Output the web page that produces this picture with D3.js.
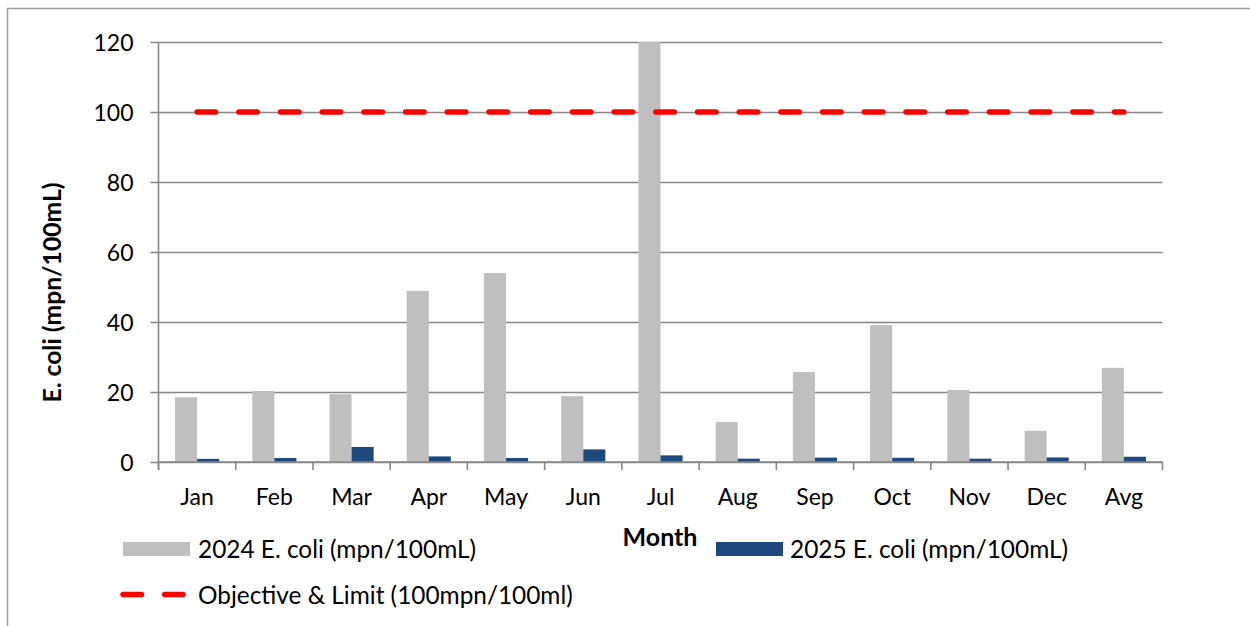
<!DOCTYPE html>
<html>
<head>
<meta charset="utf-8">
<script src="https://cdn.jsdelivr.net/npm/d3@7"></script>
<style>
  html, body { margin: 0; padding: 0; background: #fff; overflow: hidden; }
  svg { display: block; font-family: Lato, "Noto Sans", sans-serif; }
</style>
</head>
<body>
<svg id="chart" width="1250" height="626"></svg>
<script>
const categories = ["Jan","Feb","Mar","Apr","May","Jun","Jul","Aug","Sep","Oct","Nov","Dec","Avg"];
const ecoli2024 = [18.5, 20.3, 19.4, 48.9, 54, 18.8, 120, 11.4, 25.7, 39.1, 20.6, 8.9, 26.9];
const ecoli2025 = [0.9, 1.15, 4.3, 1.6, 1.15, 3.6, 1.9, 0.95, 1.25, 1.2, 0.95, 1.3, 1.5];
const objective = [100,100,100,100,100,100,100,100,100,100,100,100,100];
const yTicks = [0, 20, 40, 60, 80, 100, 120];
const seriesNames = ["2024 E. coli (mpn/100mL)", "2025 E. coli (mpn/100mL)", "Objective & Limit (100mpn/100ml)"];
const colors = { s2024: "#bfbfbf", s2025: "#1f497d", obj: "#ff0000", grid: "#878787" };

(function () {
const svg = d3.select("#chart");

// outer frame (extends past the right and bottom edges)
svg.append("rect").attr("x", 7.5).attr("y", 8.5).attr("width", 1300).attr("height", 700)
  .attr("fill", "none").attr("stroke", "#a0a0a0").attr("stroke-width", 1.5);

// clipped title descenders at the very top
svg.append("text").attr("x", 372).attr("y", -4).attr("font-size", 23).attr("fill", "#000").text("p");
svg.append("text").attr("x", 1021).attr("y", -4).attr("font-size", 23).attr("fill", "#000").text("y");

const pL = 158.5, pR = 1162.5, pT = 42, pB = 462;
const x = d3.scaleBand().domain(categories).range([pL, pR]).padding(0);
const y = d3.scaleLinear().domain([0, 120]).range([pB, pT]);
const bw = x.bandwidth();
const gap = bw * 1.5 / 3.5;
const xs = d3.scaleBand().domain(["2024", "2025"]).range([gap / 2, bw - gap / 2]).padding(0);

// horizontal gridlines + left ticks
const yAxis = d3.axisLeft(y).tickValues(yTicks).tickSize(8).tickPadding(17).tickSizeOuter(0);
const gy = svg.append("g").attr("transform", `translate(${pL},0)`).call(yAxis);
gy.select(".domain").remove();
gy.selectAll(".tick line").attr("stroke", colors.grid).attr("stroke-width", 1.6)
  .attr("x1", -8).attr("x2", pR - pL);
gy.selectAll(".tick text").attr("font-size", 23).attr("fill", "#000").attr("dy", "0.35em")
  .attr("font-family", "Lato");

// vertical axis line
svg.append("line").attr("x1", pL).attr("x2", pL).attr("y1", y(120)).attr("y2", pB + 8)
  .attr("stroke", colors.grid).attr("stroke-width", 1.6);

// bars
const gBars = svg.append("g");
gBars.selectAll("rect.b24").data(categories).join("rect").attr("class", "b24")
  .attr("x", (d) => x(d) + xs("2024"))
  .attr("y", (d, i) => y(ecoli2024[i]))
  .attr("width", xs.bandwidth())
  .attr("height", (d, i) => y(0) - y(ecoli2024[i]))
  .attr("fill", colors.s2024);
gBars.selectAll("rect.b25").data(categories).join("rect").attr("class", "b25")
  .attr("x", (d) => x(d) + xs("2025"))
  .attr("y", (d, i) => y(ecoli2025[i]))
  .attr("width", xs.bandwidth())
  .attr("height", (d, i) => y(0) - y(ecoli2025[i]))
  .attr("fill", colors.s2025);

// x axis line and boundary ticks
svg.append("line").attr("x1", pL).attr("x2", pR).attr("y1", pB).attr("y2", pB)
  .attr("stroke", colors.grid).attr("stroke-width", 1.6);
const bounds = categories.map((c) => x(c)).concat([x(categories[categories.length - 1]) + bw]);
svg.append("g").selectAll("line").data(bounds).join("line")
  .attr("x1", (d) => d).attr("x2", (d) => d).attr("y1", pB).attr("y2", pB + 8)
  .attr("stroke", colors.grid).attr("stroke-width", 1.6);

// x labels
const xAxis = d3.axisBottom(x).tickSize(0).tickPadding(0);
const gx = svg.append("g").attr("transform", `translate(0,${pB})`).call(xAxis);
gx.select(".domain").remove();
gx.selectAll(".tick text").attr("font-size", 23).attr("fill", "#000").attr("y", 43).attr("dy", 0)
  .attr("font-family", "Lato");

// objective line
const line = d3.line().x((d, i) => x(categories[i]) + bw / 2).y((d) => y(d));
svg.append("path").datum(objective).attr("d", line).attr("fill", "none")
  .attr("stroke", colors.obj).attr("stroke-width", 5.5).attr("stroke-linecap", "round")
  .attr("stroke-dasharray", "18.5 23.2");

// axis titles
svg.append("text").attr("transform", "translate(61,292.5) rotate(-90)").attr("text-anchor", "middle")
  .attr("font-size", 24.7).attr("font-weight", "bold").attr("fill", "#000").text("E. coli (mpn/100mL)");
svg.append("text").attr("x", 660).attr("y", 546).attr("text-anchor", "middle")
  .attr("font-size", 25).attr("font-weight", "bold").attr("fill", "#000").text("Month");

// legend
const lg = svg.append("g");
lg.append("rect").attr("x", 123).attr("y", 542).attr("width", 67).attr("height", 14).attr("fill", colors.s2024);
lg.append("text").attr("x", 198).attr("y", 557.5).attr("font-size", 24.4).attr("fill", "#000").text(seriesNames[0]);
lg.append("rect").attr("x", 716).attr("y", 542).attr("width", 67).attr("height", 14).attr("fill", colors.s2025);
lg.append("text").attr("x", 790).attr("y", 557.5).attr("font-size", 24.4).attr("fill", "#000").text(seriesNames[1]);
lg.append("line").attr("x1", 123).attr("x2", 183).attr("y1", 594.5).attr("y2", 594.5)
  .attr("stroke", colors.obj).attr("stroke-width", 5.5).attr("stroke-linecap", "round")
  .attr("stroke-dasharray", "18.5 23.2");
lg.append("text").attr("x", 198).attr("y", 603.5).attr("font-size", 24.4).attr("fill", "#000").text(seriesNames[2]);
})();
</script>
</body>
</html>
